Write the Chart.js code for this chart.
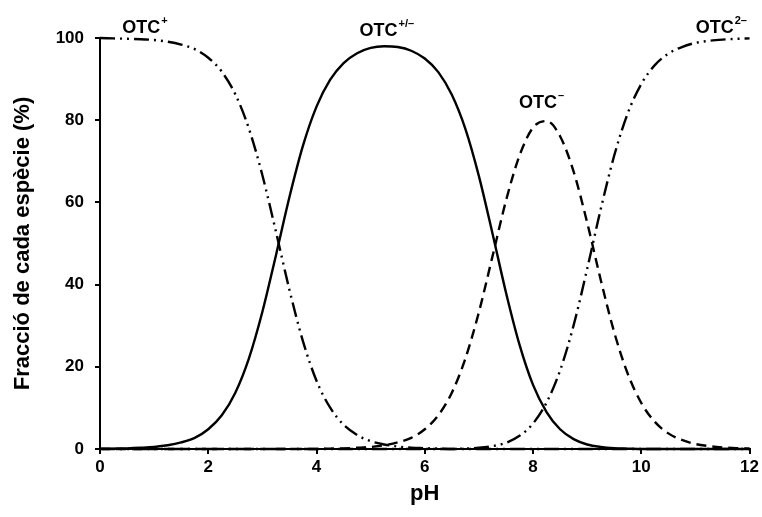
<!DOCTYPE html>
<html>
<head>
<meta charset="utf-8">
<script src="https://cdn.jsdelivr.net/npm/chart.js@4.4.1/dist/chart.umd.min.js"></script>
<style>
  html, body { margin: 0; padding: 0; background: #fff; }
  #wrap { width: 762px; height: 517px; }
</style>
</head>
<body>
<div id="wrap"><canvas id="grafic" width="762" height="517"></canvas></div>
<script>
// pH (eix X)
const ph = [0, 0.25, 0.5, 0.75, 1, 1.25, 1.5, 1.75, 2, 2.25, 2.5, 2.75, 3, 3.25, 3.5, 3.75,
  4, 4.25, 4.5, 4.75, 5, 5.25, 5.5, 5.75, 6, 6.25, 6.5, 6.75, 7, 7.25, 7.5, 7.75,
  8, 8.25, 8.5, 8.75, 9, 9.25, 9.5, 9.75, 10, 10.25, 10.5, 10.75, 11, 11.25, 11.5, 11.75, 12];

// Fracció de cada espècie (%)
const otcPos = [100, 99.9, 99.8, 99.7, 99.5, 99.1, 98.4, 97.3, 95.2, 91.8, 86.3, 78.0, 66.6, 52.9, 38.7, 26.2,
  16.6, 10.1, 5.9, 3.4, 1.9, 1.1, 0.6, 0.3, 0.2, 0.1, 0, 0, 0, 0, 0, 0,
  0, 0, 0, 0, 0, 0, 0, 0, 0, 0, 0, 0, 0, 0, 0, 0, 0];
const otcZw = [0.05, 0.1, 0.16, 0.3, 0.5, 0.9, 1.6, 2.7, 4.8, 8.2, 13.7, 22.0, 33.4, 47.1, 61.3, 73.8,
  83.3, 89.8, 93.9, 96.3, 97.6, 98.0, 97.8, 96.9, 95.0, 91.7, 86.2, 77.9, 66.4, 52.5, 38.1, 25.4,
  15.6, 9.0, 4.8, 2.4, 1.1, 0.5, 0.2, 0.1, 0, 0, 0, 0, 0, 0, 0, 0, 0];
const otcNeg = [0, 0, 0, 0, 0, 0, 0, 0, 0, 0, 0, 0, 0, 0, 0, 0,
  0, 0.1, 0.15, 0.3, 0.5, 0.9, 1.6, 2.7, 4.8, 8.2, 13.7, 22.0, 33.3, 46.8, 60.4, 71.4,
  78.2, 79.8, 76.1, 67.5, 55.1, 41.2, 28.4, 18.3, 11.2, 6.6, 3.8, 2.2, 1.2, 0.7, 0.4, 0.2, 0.1];
const otcDi = [0, 0, 0, 0, 0, 0, 0, 0, 0, 0, 0, 0, 0, 0, 0, 0,
  0, 0, 0, 0, 0, 0, 0, 0, 0, 0, 0, 0.1, 0.3, 0.7, 1.5, 3.2,
  6.2, 11.3, 19.1, 30.1, 43.8, 58.3, 71.4, 81.7, 88.8, 93.4, 96.2, 97.8, 98.8, 99.3, 99.6, 99.8, 99.9];

// Etiquetes de les espècies: text, superíndex, posició (pH, %)
const etiquetes = [
  { text: 'OTC', sup: '+', x: 0.82, y: 101.3 },
  { text: 'OTC', sup: '+/\u2013', x: 5.29, y: 100.4 },
  { text: 'OTC', sup: '\u2013', x: 8.15, y: 83 },
  { text: 'OTC', sup: '2\u2013', x: 11.47, y: 101.3 }
];

function punts(valors) {
  return ph.map((p, i) => ({ x: p, y: valors[i] }));
}

const FONT = '"Liberation Sans", Arial, sans-serif';

// Dibuixar les etiquetes sobre el gràfic
const pluginEtiquetes = {
  id: 'etiquetes',
  afterDatasetsDraw(chart) {
    const ctx = chart.ctx;
    const sx = chart.scales.x, sy = chart.scales.y;
    ctx.save();
    ctx.fillStyle = '#000';
    ctx.textBaseline = 'alphabetic';
    etiquetes.forEach(e => {
      ctx.font = 'bold 18px ' + FONT;
      const w1 = ctx.measureText(e.text).width;
      ctx.font = 'bold 11px ' + FONT;
      const w2 = ctx.measureText(e.sup).width;
      const x0 = sx.getPixelForValue(e.x) - (w1 + w2) / 2;
      const y0 = sy.getPixelForValue(e.y);
      ctx.font = 'bold 18px ' + FONT;
      ctx.fillText(e.text, x0, y0);
      ctx.font = 'bold 11px ' + FONT;
      ctx.fillText(e.sup, x0 + w1 + 1, y0 - 9);
    });
    ctx.restore();
  }
};

const dashDotDot = [15, 5, 2, 5, 2, 5];

const ctx = document.getElementById('grafic').getContext('2d');
new Chart(ctx, {
  type: 'line',
  data: {
    datasets: [
      { label: 'OTC+', data: punts(otcPos), borderDash: dashDotDot },
      { label: 'OTC+/-', data: punts(otcZw), borderDash: [] },
      { label: 'OTC-', data: punts(otcNeg), borderDash: [10, 6] },
      { label: 'OTC2-', data: punts(otcDi), borderDash: dashDotDot }
    ]
  },
  options: {
    responsive: false,
    animation: false,
    clip: false,
    layout: { padding: { top: 38, right: 11, left: 0, bottom: 0 } },
    elements: {
      point: { radius: 0 },
      line: { borderColor: '#000', borderWidth: 2.4, cubicInterpolationMode: 'monotone', fill: false }
    },
    plugins: {
      legend: { display: false },
      tooltip: { enabled: false }
    },
    scales: {
      x: {
        type: 'linear',
        min: 0,
        max: 12,
        ticks: { stepSize: 2, color: '#000', font: { family: FONT, size: 17, weight: 'bold' }, padding: 3 },
        grid: { drawOnChartArea: false, drawTicks: true, tickLength: 5, color: '#000', lineWidth: 2 },
        border: { display: true, color: '#000', width: 2 },
        title: { display: true, text: 'pH', color: '#000', font: { family: FONT, size: 22, weight: 'bold' }, padding: { top: 4, bottom: 10 } },
        afterFit(scale) { scale.height = 68; }
      },
      y: {
        min: 0,
        max: 100,
        ticks: { stepSize: 20, color: '#000', font: { family: FONT, size: 17, weight: 'bold' }, padding: 11 },
        grid: { drawOnChartArea: false, drawTicks: true, tickLength: 5, color: '#000', lineWidth: 2 },
        border: { display: true, color: '#000', width: 2 },
        title: { display: true, text: 'Fracció de cada espècie (%)', color: '#000', font: { family: FONT, size: 22, weight: 'bold' }, padding: { top: 10, bottom: 10 } },
        afterFit(scale) { scale.width = 100; }
      }
    }
  },
  plugins: [pluginEtiquetes]
});
</script>
</body>
</html>
